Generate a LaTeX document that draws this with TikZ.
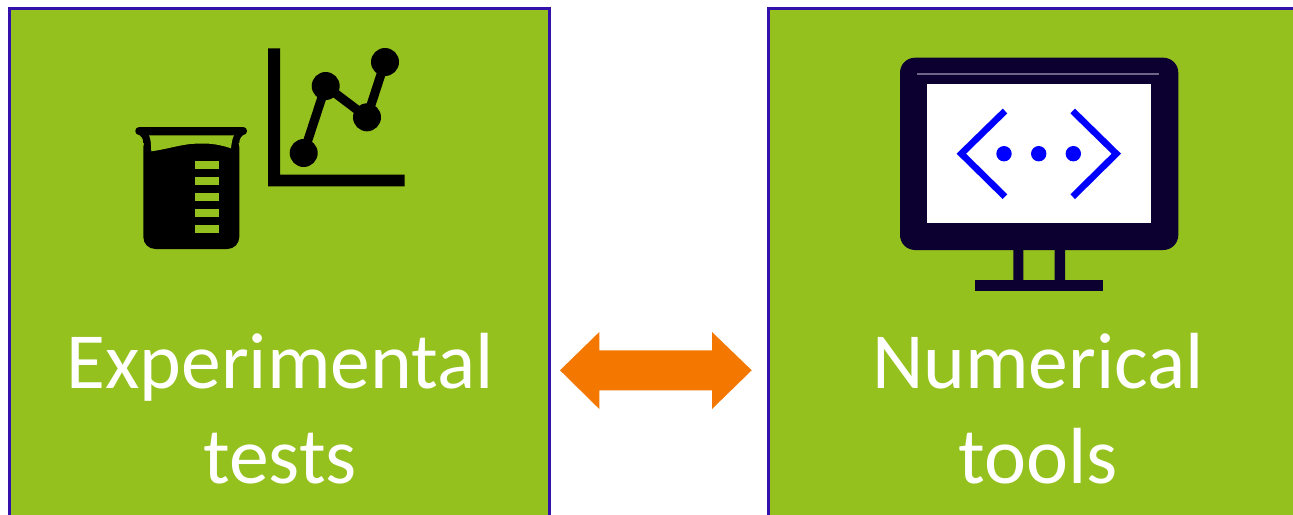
\documentclass[tikz,border=0pt]{standalone}
\usepackage{fontspec}
\setmainfont{Carlito}
\definecolor{boxgreen}{HTML}{95C11E}
\definecolor{boxedge}{HTML}{3311AA}
\definecolor{navy}{HTML}{0C0030}
\definecolor{arroworange}{HTML}{F47700}
\definecolor{codeblue}{HTML}{0000FF}
\definecolor{glint}{HTML}{6E6488}
\tikzset{
  panel/.style={rectangle,draw=boxedge,line width=3pt,fill=boxgreen,inner sep=0pt,anchor=north west},
  caption/.style={text=white,font=\fontsize{79.6}{80}\selectfont,anchor=base,inner sep=0pt},
  tick/.style={fill=boxgreen},
  curve/.style={line width=9pt},
  dot/.style={circle,fill=black,inner sep=0pt,minimum size=28pt},
  codedot/.style={circle,fill=codeblue,inner sep=0pt,minimum size=15.4pt},
  chevron/.style={draw=codeblue,line width=6.6pt,miter limit=10},
}
\begin{document}
\begin{tikzpicture}[x=1pt,y=-1pt]
\useasboundingbox (0,0) rectangle (1293,514);
\begin{scope}
\clip (0,0) rectangle (1293,514);
\node[panel,minimum width=540pt,minimum height=520pt] (left) at (8,7) {};
\node[panel,minimum width=540pt,minimum height=520pt] (right) at (766.5,7) {};
\end{scope}
% beaker
\fill[black,rounded corners=3.8pt] (135.3,127) rectangle (247,135);
\fill[black] (137,133) .. controls (141,136) and (143.3,138) .. (143.3,143) -- (239.3,143)
  .. controls (239.3,138) and (241.5,136) .. (245.5,133) -- cycle;
\fill[black,rounded corners=12pt] (143.3,135) -- (239.3,135) -- (239.3,249) -- (143.3,249) -- cycle;
\fill[boxgreen] (149,135.3) -- (234,135.3) .. controls (232,139) and (231.5,144) .. (231,148.3)
  .. controls (215,143) and (205,143) .. (190,144)
  .. controls (175,146) and (165,149.5) .. (151.3,151.3)
  .. controls (151,145) and (151,139) .. (149,135.3) -- cycle;
\foreach \t in {161.3,177.3,193.3,209.3,225.3}
  \fill[tick] (195.3,\t) rectangle (219.3,\t+8);
% chart
\fill[black] (268,48.3) -- (280,48.3) -- (280,174.7) -- (404.7,174.7) -- (404.7,186.3) -- (268,186.3) -- cycle;
\node[dot] (p1) at (303.7,153) {};
\node[dot] (p2) at (325.7,86) {};
\node[dot] (p3) at (367,117.3) {};
\node[dot] (p4) at (385,62) {};
\draw[curve] (p1.center) -- (p2.center) -- (p3.center) -- (p4.center);
% monitor
\fill[navy,rounded corners=15pt] (900,57.7) rectangle (1178.3,250);
\fill[navy] (1013.3,249) rectangle (1023.3,281) (1054.7,249) rectangle (1065,281);
\fill[navy] (975.3,280.3) rectangle (1102.7,290.7);
\draw[glint,line width=1.5pt] (917,74) -- (1158.7,74);
\fill[white] (927.3,84.3) rectangle (1151,223);
\draw[chevron] (1005,111) -- (961.3,153.7) -- (1005,196.7);
\draw[chevron] (1072.7,111) -- (1116.3,153.7) -- (1072.7,196.7);
\node[codedot] (d1) at (1004,153.7) {};
\node[codedot] (d2) at (1038.7,153.7) {};
\node[codedot] (d3) at (1073.3,153.7) {};
% arrow
\fill[arroworange] (560,370.3) -- (599.3,332) -- (599.3,350.3) -- (712,350.3) -- (712,332)
  -- (751.7,370.3) -- (712,409) -- (712,390.3) -- (599.3,390.3) -- (599.3,409) -- cycle;
% labels
\node[caption] (t1) at (280,388) {Experimental};
\node[caption] (t2) at (280,483) {tests};
\node[caption] (t3) at (1038,388) {Numerical};
\node[caption] (t4) at (1038,483) {tools};
\end{tikzpicture}
\end{document}
